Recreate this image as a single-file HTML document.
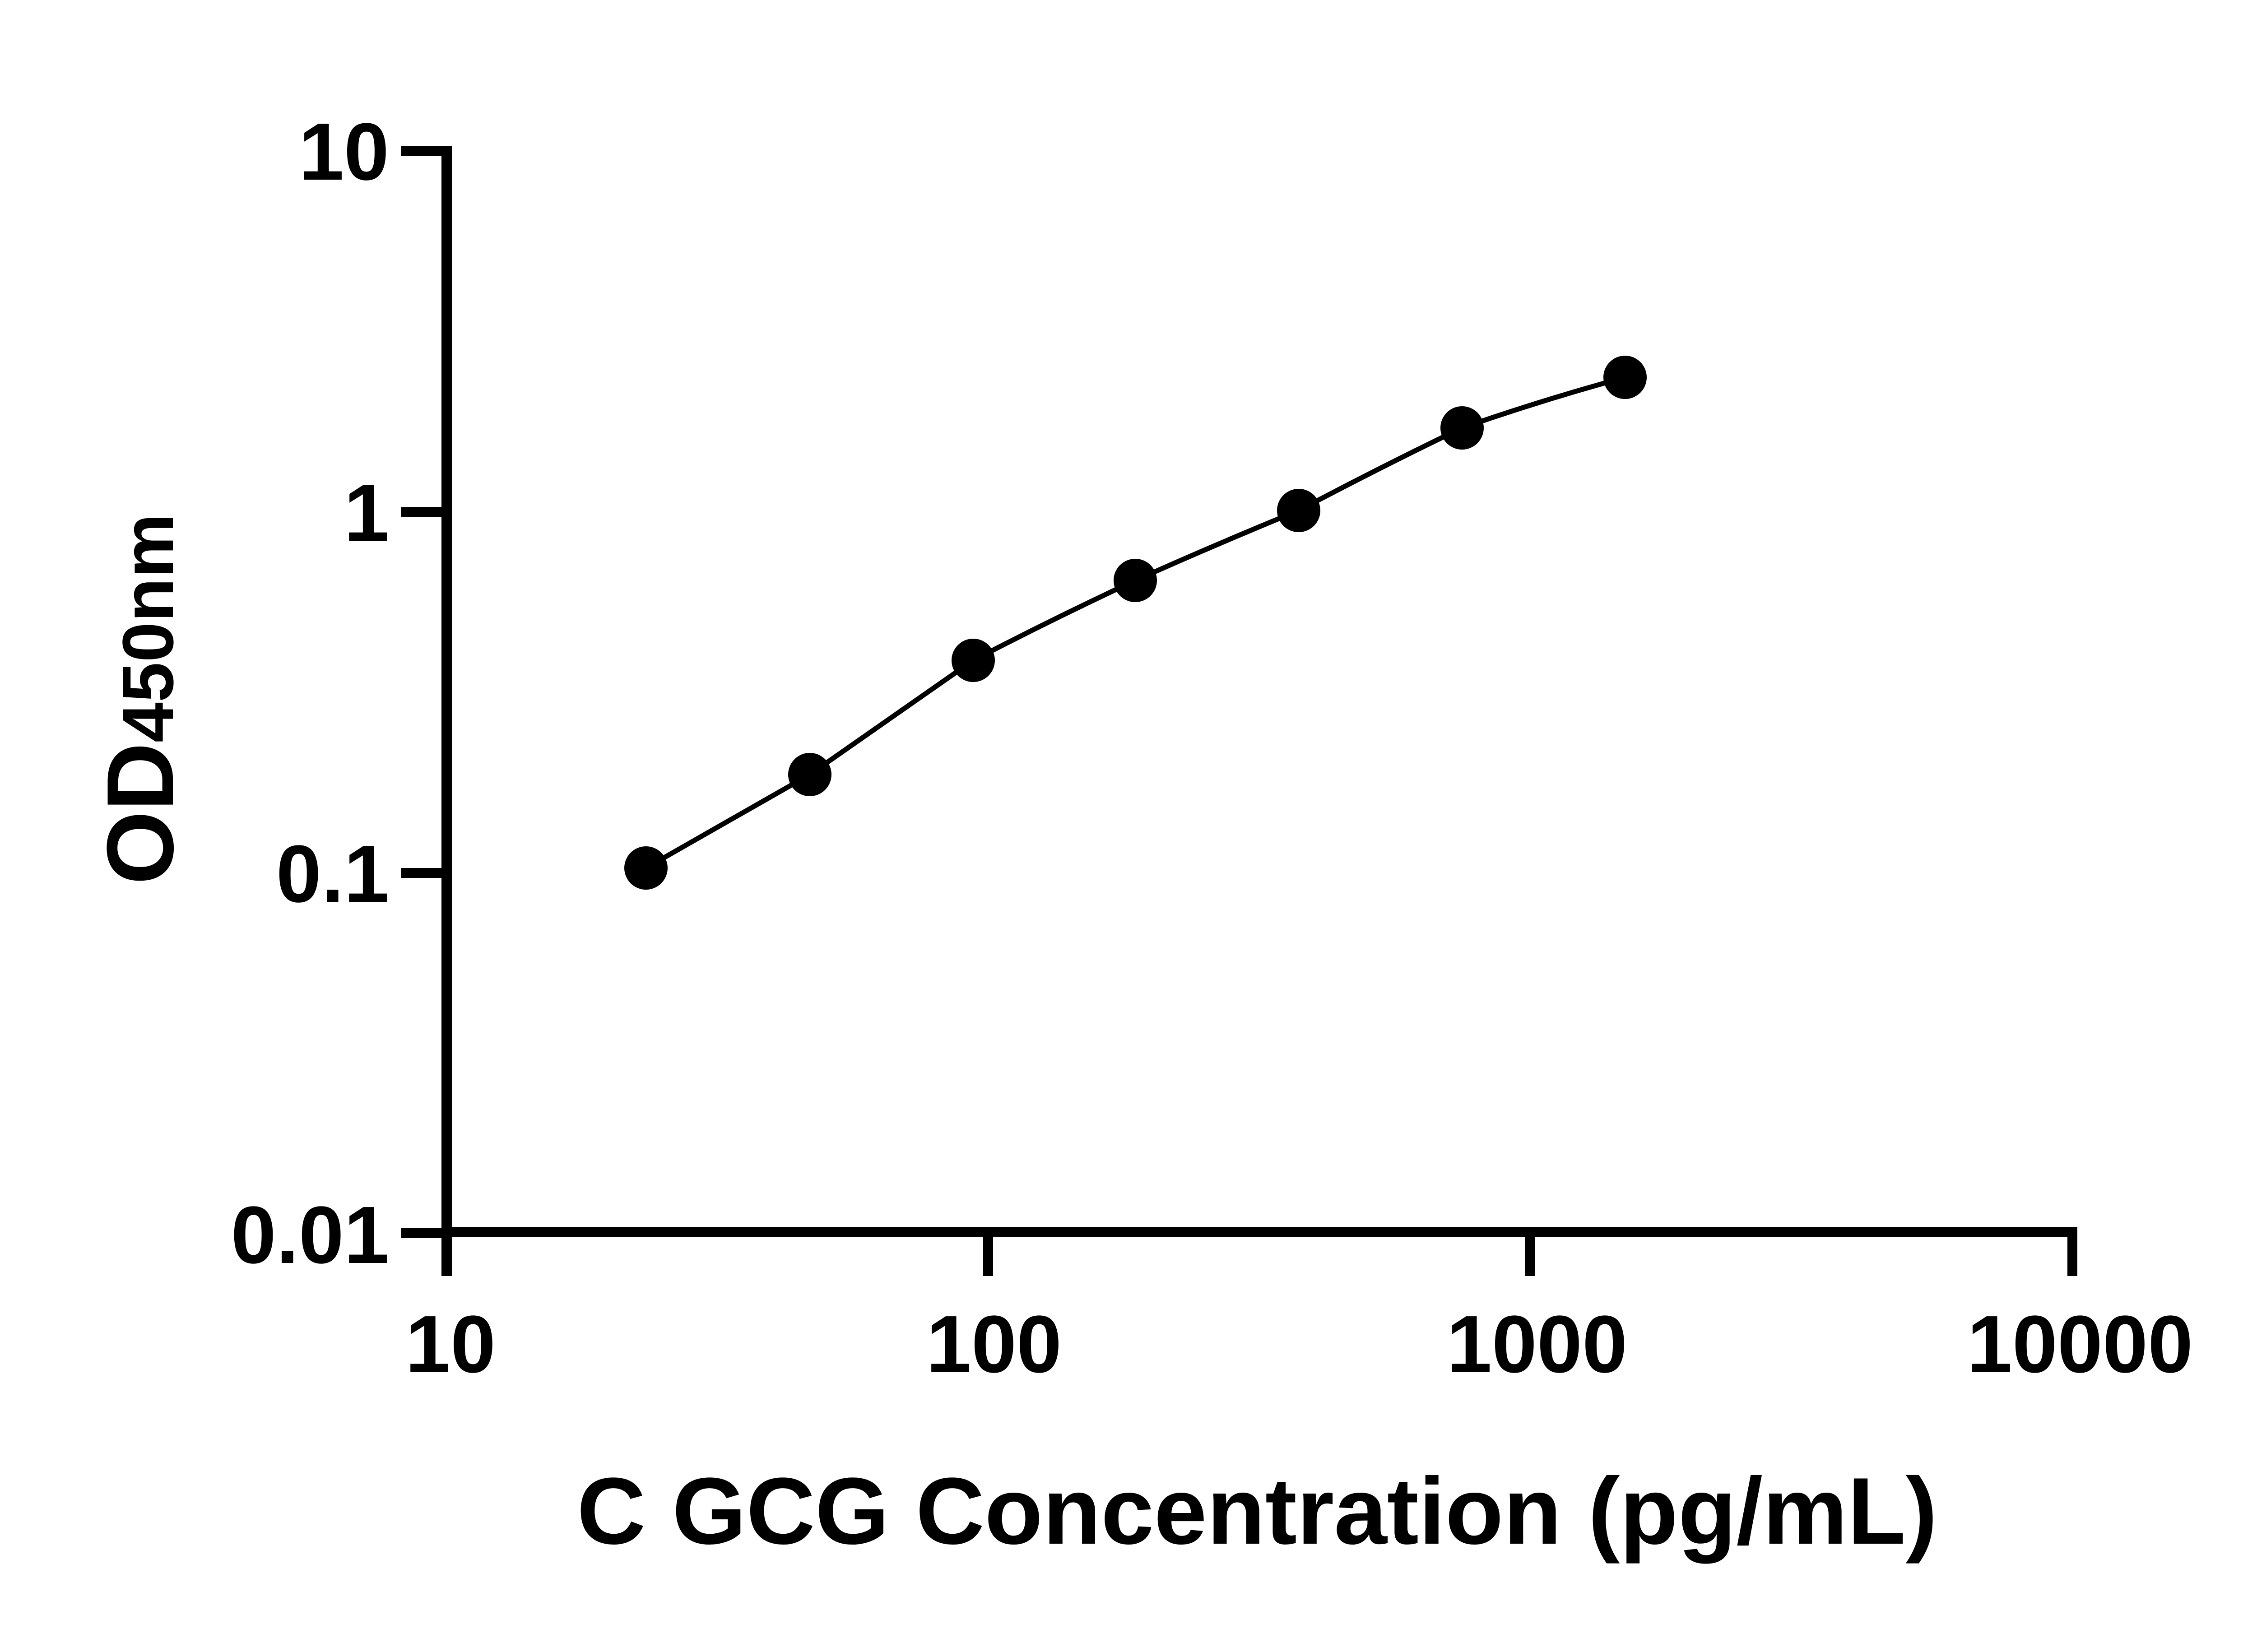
<!DOCTYPE html>
<html><head><meta charset="utf-8"><style>
html,body{margin:0;padding:0;background:#fff;}
svg{display:block;}
text{font-family:"Liberation Sans",Arial,sans-serif;font-weight:bold;fill:#000;}
</style></head><body>
<svg width="5142" height="3660" viewBox="0 0 5142 3660" xmlns="http://www.w3.org/2000/svg">
<rect width="5142" height="3660" fill="#fff"/>
<!-- axes -->
<rect x="978" y="323" width="23" height="2504" fill="#000"/>
<rect x="978" y="2719" width="3624" height="22" fill="#000"/>
<!-- y ticks -->
<rect x="888" y="323" width="100" height="22" fill="#000"/>
<rect x="888" y="1123" width="100" height="22" fill="#000"/>
<rect x="888" y="1923" width="100" height="22" fill="#000"/>
<rect x="888" y="2721" width="100" height="22" fill="#000"/>
<!-- x ticks -->
<rect x="2178" y="2730" width="22" height="97" fill="#000"/>
<rect x="3378" y="2730" width="22" height="97" fill="#000"/>
<rect x="4580" y="2730" width="22" height="97" fill="#000"/>
<!-- y tick labels -->
<g font-size="180" text-anchor="end">
<text x="862" y="398">10</text>
<text x="862" y="1198">1</text>
<text x="862" y="1998">0.1</text>
<text x="862" y="2798">0.01</text>
</g>
<!-- x tick labels -->
<g font-size="180" text-anchor="middle">
<text x="998" y="3040">10</text>
<text x="2202" y="3040">100</text>
<text x="3405" y="3040">1000</text>
<text x="4608" y="3040">10000</text>
</g>
<!-- curve -->
<path d="M1431,1923 L1794,1716 Q1975,1590 2156,1463 Q2335,1370 2515,1286 Q2696,1205 2877,1131 Q3058,1035 3239,948 Q3420,885 3600,836" fill="none" stroke="#000" stroke-width="11"/>
<g fill="#000">
<circle cx="1431" cy="1923" r="48"/>
<circle cx="1794" cy="1716" r="48"/>
<circle cx="2156" cy="1463" r="48"/>
<circle cx="2515" cy="1286" r="48"/>
<circle cx="2877" cy="1131" r="48"/>
<circle cx="3239" cy="948" r="48"/>
<circle cx="3600" cy="836" r="48"/>
</g>
<!-- titles -->
<text x="1278" y="3420" font-size="210" textLength="3014" lengthAdjust="spacingAndGlyphs">C GCG Concentration (pg/mL)</text>
<text transform="translate(383,1960) rotate(-90)" font-size="210"><tspan>OD</tspan><tspan font-size="160">450nm</tspan></text>
</svg>
</body></html>
